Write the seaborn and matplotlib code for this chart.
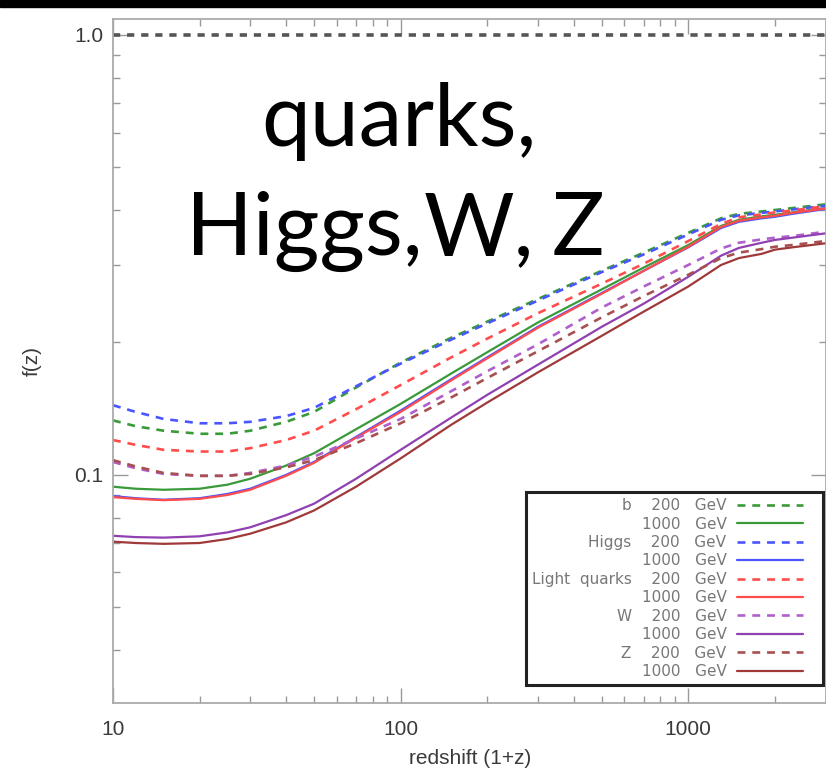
import matplotlib
matplotlib.use("Agg")
import matplotlib.pyplot as plt
import seaborn as sns
import pandas as pd
from matplotlib.ticker import FixedLocator, FixedFormatter, NullFormatter, LogLocator
from matplotlib.patches import Rectangle
from matplotlib.legend_handler import HandlerLine2D

# ---- data ----
redshift = [10, 12, 15, 20, 25, 30, 40, 50, 70, 100, 150, 200, 300, 500, 700,
            1000, 1300, 1500, 1800, 2000, 2300, 3000]

b_200 = [0.133, 0.129, 0.126, 0.124, 0.124, 0.126, 0.132, 0.139, 0.158, 0.180, 0.205,
         0.223, 0.251, 0.291, 0.320, 0.355, 0.383, 0.392, 0.397, 0.400, 0.404, 0.412]
b_1000 = [0.094, 0.093, 0.0925, 0.093, 0.095, 0.098, 0.105, 0.112, 0.127, 0.145, 0.170,
          0.190, 0.222, 0.264, 0.296, 0.333, 0.368, 0.380, 0.387, 0.390, 0.395, 0.404]
higgs_200 = [0.144, 0.139, 0.134, 0.131, 0.131, 0.132, 0.136, 0.142, 0.159, 0.179, 0.203,
             0.221, 0.249, 0.289, 0.317, 0.352, 0.380, 0.389, 0.394, 0.397, 0.401, 0.409]
higgs_1000 = [0.0895, 0.0885, 0.0878, 0.0885, 0.0905, 0.093, 0.100, 0.107, 0.122, 0.140, 0.165,
              0.185, 0.217, 0.259, 0.291, 0.329, 0.364, 0.376, 0.383, 0.386, 0.392, 0.402]
lq_200 = [0.120, 0.117, 0.114, 0.113, 0.113, 0.115, 0.120, 0.126, 0.141, 0.160, 0.185,
          0.204, 0.233, 0.272, 0.302, 0.340, 0.372, 0.385, 0.391, 0.395, 0.399, 0.408]
lq_1000 = [0.089, 0.0882, 0.0876, 0.0882, 0.090, 0.0925, 0.0995, 0.1065, 0.1215, 0.139, 0.164,
           0.184, 0.216, 0.258, 0.291, 0.330, 0.366, 0.378, 0.385, 0.388, 0.394, 0.403]
w_200 = [0.107, 0.1035, 0.1005, 0.0995, 0.0995, 0.101, 0.105, 0.110, 0.121, 0.134, 0.155,
         0.172, 0.198, 0.240, 0.268, 0.300, 0.327, 0.337, 0.343, 0.346, 0.349, 0.357]
w_1000 = [0.0727, 0.0722, 0.072, 0.0725, 0.074, 0.076, 0.081, 0.086, 0.098, 0.114, 0.135,
          0.152, 0.178, 0.217, 0.245, 0.282, 0.315, 0.328, 0.337, 0.342, 0.346, 0.354]
z_200 = [0.108, 0.1045, 0.101, 0.0995, 0.0995, 0.1005, 0.104, 0.108, 0.118, 0.131, 0.150,
         0.166, 0.191, 0.228, 0.255, 0.285, 0.311, 0.320, 0.326, 0.330, 0.333, 0.340]
z_1000 = [0.0705, 0.070, 0.0697, 0.070, 0.0715, 0.0735, 0.078, 0.083, 0.094, 0.109, 0.130,
          0.146, 0.171, 0.207, 0.235, 0.268, 0.300, 0.311, 0.318, 0.325, 0.329, 0.336]

legend_labels = ["b    200   GeV", "1000   GeV", "Higgs    200   GeV", "1000   GeV",
                 "Light  quarks    200   GeV", "1000   GeV", "W    200   GeV", "1000   GeV",
                 "Z    200   GeV", "1000   GeV"]
series_values = [b_200, b_1000, higgs_200, higgs_1000, lq_200, lq_1000,
                 w_200, w_1000, z_200, z_1000]
colors = ["#3a9a3a", "#3a9a3a", "#4a55ff", "#4a55ff", "#ff4d4d", "#ff4d4d",
          "#b060cc", "#9040b0", "#a85050", "#a03a3a"]

x_ticks = [10, 100, 1000]
x_tick_labels = ["10", "100", "1000"]
y_ticks = [0.1, 1.0]
y_tick_labels = ["0.1", "1.0"]

# ---- figure ----
sns.set_style("ticks")
plt.rcParams['font.family'] = ['Liberation Sans', 'DejaVu Sans']

W, H = 826, 770
fig = plt.figure(figsize=(W / 100, H / 100), dpi=100)
ax = fig.add_axes([113 / W, 1 - 703 / H, (825.5 - 113) / W, (703 - 19) / H])

dash = (0, (3.0, 2.6))
handles = []
for i, (vals, col) in enumerate(zip(series_values, colors)):
    is_dashed = (i % 2 == 0)
    df = pd.DataFrame({"redshift": redshift, "f": vals})
    n_before = len(ax.lines)
    sns.lineplot(data=df, x="redshift", y="f", ax=ax, color=col,
                 linestyle=dash if is_dashed else "-",
                 lw=1.9 if is_dashed else 1.6,
                 estimator=None, sort=False, legend=False)
    handles.append(ax.lines[n_before])

ax.axhline(1.0, color="#555555", lw=2.6, linestyle=(0, (2.0, 1.9)))

ax.set_xscale("log")
ax.set_yscale("log")
ax.set_xlim(10, 3000)
ax.set_ylim(0.0303, 1.087)

ax.xaxis.set_major_locator(FixedLocator(x_ticks))
ax.xaxis.set_major_formatter(FixedFormatter(x_tick_labels))
ax.xaxis.set_minor_locator(LogLocator(base=10, subs=range(2, 10)))
ax.xaxis.set_minor_formatter(NullFormatter())
ax.yaxis.set_major_locator(FixedLocator(y_ticks))
ax.yaxis.set_major_formatter(FixedFormatter(y_tick_labels))
ax.yaxis.set_minor_locator(LogLocator(base=10, subs=range(2, 10)))
ax.yaxis.set_minor_formatter(NullFormatter())

ax.tick_params(which="both", direction="in", top=True, right=True,
               color="#999999", width=1.0, labelcolor="#3a3a3a", labelsize=15)
ax.tick_params(which="major", length=11)
ax.tick_params(which="minor", length=5)
ax.tick_params(axis="x", which="major", pad=12)
ax.tick_params(axis="y", which="major", pad=7)
for sp in ax.spines.values():
    sp.set_color("#aaaaaa")
    sp.set_linewidth(1.3)

ax.set_xlabel("redshift (1+z)", fontsize=15, color="#3a3a3a")
ax.set_ylabel("f(z)", fontsize=15, color="#3a3a3a")
ax.xaxis.set_label_coords((470 - 113) / 713, -(749 - 703) / 684)
ax.yaxis.set_label_coords((42 - 113) / 713, 0.5)


class ShortLineHandler(HandlerLine2D):
    """Draw the legend line over the left part of the handle box only."""
    def create_artists(self, legend, orig_handle, xdescent, ydescent, width,
                       height, fontsize, trans):
        return super().create_artists(legend, orig_handle, xdescent, ydescent,
                                      width - 9.5, height, fontsize, trans)


leg = ax.legend(handles, legend_labels, loc="lower right",
                bbox_to_anchor=(0.996, 0.026), borderaxespad=0,
                markerfirst=False, fancybox=False, framealpha=1,
                edgecolor="#222222", prop={"family": "DejaVu Sans", "size": 11},
                labelcolor="#777777", handlelength=5.2, handletextpad=0.7,
                labelspacing=0.225, borderpad=0.4,
                handler_map={h: ShortLineHandler() for h in handles})
leg.get_frame().set_linewidth(2.2)

# black strip at top
fig.patches.append(Rectangle((0, 1 - 7 / H), 1, 7 / H, transform=fig.transFigure,
                             color="black", zorder=10))

# big overlay text
big = dict(fontsize=63, family=["Lato", "DejaVu Sans"], color="black", va="baseline")
fig.text(399 / W, 1 - 146 / H, "quarks,", ha="center", **big)
fig.text(186 / W, 1 - 255 / H, "Higgs,", ha="left", **big)
fig.text(424 / W, 1 - 255 / H, "W,", ha="left", **big)
fig.text(552 / W, 1 - 255 / H, "Z", ha="left", **big)

fig.savefig("out.png", dpi=100)
